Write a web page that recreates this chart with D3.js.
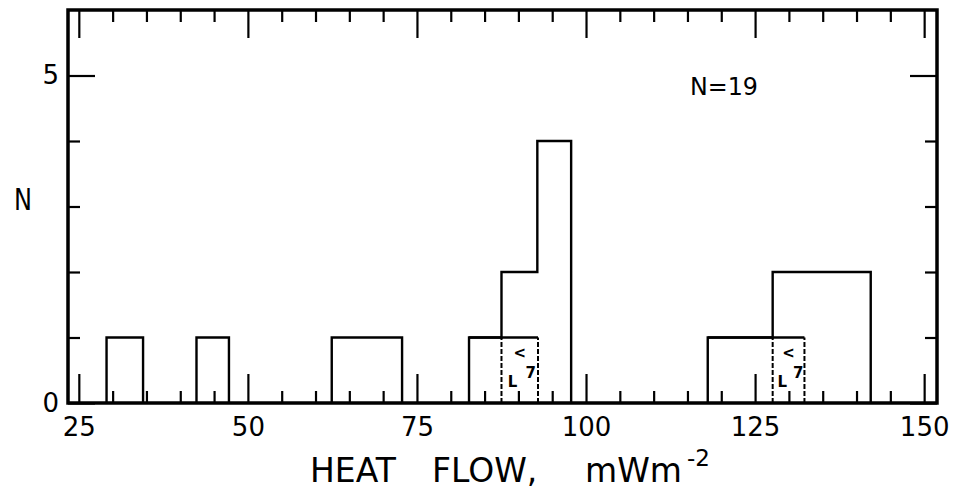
<!DOCTYPE html>
<html>
<head>
<meta charset="utf-8">
<script src="https://cdn.jsdelivr.net/npm/d3@7"></script>
<style>
  body { margin: 0; background: #fff; }
  text { font-family: "DejaVu Sans", sans-serif; fill: #000; }
</style>
</head>
<body>
<div id="chart"></div>
<script>

// Chart size and margins (plot frame drawn inside these)
const width = 953;
const height = 497;
const margin = {left: 68, right: 16, top: 10, bottom: 94};

// Histogram bins: lower edge, upper edge, count (outline bins)
const binLo = [29.1, 42.4, 62.4, 82.7, 87.5, 92.8, 118.0, 127.6];
const binHi = [34.5, 47.2, 72.8, 87.5, 92.8, 97.8, 127.6, 142.1];
const binN  = [1, 1, 1, 1, 2, 4, 1, 2];

// inner boxes (one site drawn with a top line, dashed sides)
const boxLo = [82.7, 118.0];
const boxHi = [92.9, 132.3];
const boxN  = [1, 1];

// dashed cells where the boxes overlap the taller bins
const cellLo = [87.5, 127.6];
const cellHi = [92.9, 132.3];

// ticks and labels
const xMajor = [25, 50, 75, 100, 125, 150];
const xMinor = d3.range(30, 150, 5).filter(v => v % 25 !== 0);
const yMajor = [0, 5];
const yMinor = [1, 2, 3, 4];
const xTitle = ["HEAT", "FLOW,", "mWm"];
const xTitleSup = "-2";
const yTitle = "N";
const nLabel = "N=19";

const svg = d3.select("#chart")
  .append("svg")
  .attr("width", width)
  .attr("height", height);

const x = d3.scaleLinear()
  .domain([23.4, 151.9])
  .range([margin.left, width - margin.right]);

const y = d3.scaleLinear()
  .domain([0, 6])
  .range([height - margin.bottom, margin.top]);

// helper to strip domain line off an axis group
function noDomain(g) { g.select(".domain").remove(); }

/*
  Ticks (all pointing inwards, on all four sides)
*/
const tickStyle = g => g.selectAll(".tick line").attr("stroke", "#000").attr("stroke-width", 2.2);

// bottom minor
svg.append("g")
  .attr("transform", `translate(0,${y(0)})`)
  .call(d3.axisBottom(x).tickValues(xMinor).tickSize(-12).tickFormat(""))
  .call(noDomain).call(tickStyle);

// bottom major + labels
svg.append("g")
  .attr("transform", `translate(0,${y(0)})`)
  .call(d3.axisBottom(x).tickValues(xMajor).tickSize(-29).tickPadding(15).tickFormat(d3.format("d")))
  .call(noDomain).call(tickStyle)
  .selectAll("text").attr("font-size", 26);

// top minor and major
svg.append("g")
  .attr("transform", `translate(0,${y(6)})`)
  .call(d3.axisTop(x).tickValues(xMinor).tickSize(-12).tickFormat(""))
  .call(noDomain).call(tickStyle);
svg.append("g")
  .attr("transform", `translate(0,${y(6)})`)
  .call(d3.axisTop(x).tickValues(xMajor).tickSize(-28).tickFormat(""))
  .call(noDomain).call(tickStyle);

// left minor, major + labels
svg.append("g")
  .attr("transform", `translate(${x.range()[0]},0)`)
  .call(d3.axisLeft(y).tickValues(yMinor).tickSize(-12).tickFormat(""))
  .call(noDomain).call(tickStyle);
svg.append("g")
  .attr("transform", `translate(${x.range()[0]},0)`)
  .call(d3.axisLeft(y).tickValues(yMajor).tickSize(-27).tickPadding(9).tickFormat(d3.format("d")))
  .call(noDomain).call(tickStyle)
  .selectAll("text").attr("font-size", 26);

// right minor and major
svg.append("g")
  .attr("transform", `translate(${x.range()[1]},0)`)
  .call(d3.axisRight(y).tickValues(yMinor).tickSize(-12).tickFormat(""))
  .call(noDomain).call(tickStyle);
svg.append("g")
  .attr("transform", `translate(${x.range()[1]},0)`)
  .call(d3.axisRight(y).tickValues(yMajor).tickSize(-27).tickFormat(""))
  .call(noDomain).call(tickStyle);

// frame
svg.append("rect")
  .attr("x", x.range()[0])
  .attr("y", y(6))
  .attr("width", x.range()[1] - x.range()[0])
  .attr("height", y(0) - y(6))
  .attr("fill", "none")
  .attr("stroke", "#000")
  .attr("stroke-width", 3.5);

/*
  Bars - outline of the histogram, contiguous bins joined in one step path
*/
const bins = binLo.map((lo, i) => ({lo: lo, hi: binHi[i], n: binN[i]}));
const groups = [];
bins.forEach((b, i) => {
  if (i > 0 && Math.abs(bins[i - 1].hi - b.lo) < 0.01) groups[groups.length - 1].push(b);
  else groups.push([b]);
});

const step = d3.line()
  .x(d => x(d[0]))
  .y(d => y(d[1]))
  .curve(d3.curveStepAfter);

svg.selectAll(".bar")
  .data(groups)
  .enter()
  .append("path")
    .attr("class", "bar")
    .attr("d", g => {
      const pts = [[g[0].lo, 0]];
      g.forEach(b => pts.push([b.lo, b.n]));
      pts.push([g[g.length - 1].hi, 0]);
      return step(pts);
    })
    .attr("fill", "none")
    .attr("stroke", "#000")
    .attr("stroke-width", 2.4);

// inner box top lines
svg.selectAll(".box")
  .data(boxLo)
  .enter()
  .append("line")
    .attr("class", "box")
    .attr("x1", d => x(d))
    .attr("x2", (d, i) => x(boxHi[i]))
    .attr("y1", (d, i) => y(boxN[i]))
    .attr("y2", (d, i) => y(boxN[i]))
    .attr("stroke", "#000")
    .attr("stroke-width", 2.4);

// dashed sides of the overlap cells
const cellSides = [];
cellLo.forEach((lo, i) => { cellSides.push(lo); cellSides.push(cellHi[i]); });
svg.selectAll(".cellside")
  .data(cellSides)
  .enter()
  .append("line")
    .attr("class", "cellside")
    .attr("x1", d => x(d))
    .attr("x2", d => x(d))
    .attr("y1", y(0))
    .attr("y2", y(1))
    .attr("stroke", "#000")
    .attr("stroke-width", 2)
    .attr("stroke-dasharray", "5,2");

// little broken hatch marks inside the cells
const scribbles = ["<", "L", "7"];
const scribFx = [0.5, 0.3, 0.8];
const scribFy = [0.75, 0.32, 0.45];
cellLo.forEach((lo, i) => {
  svg.selectAll(".scrib" + i)
    .data(scribbles)
    .enter()
    .append("text")
      .attr("class", "scrib" + i)
      .attr("x", (d, j) => x(lo + (cellHi[i] - lo) * scribFx[j]))
      .attr("y", (d, j) => y(scribFy[j]))
      .attr("text-anchor", "middle")
      .attr("dominant-baseline", "middle")
      .attr("font-size", 15)
      .attr("font-weight", "bold")
      .text(d => d);
});

/*
  Text labels
*/
svg.append("text")
  .attr("x", 690)
  .attr("y", 95)
  .attr("font-size", 24)
  .attr("textLength", 68)
  .attr("lengthAdjust", "spacingAndGlyphs")
  .text(nLabel);

svg.append("text")
  .attr("x", 23)
  .attr("y", 210)
  .attr("text-anchor", "middle")
  .attr("font-size", 30)
  .attr("textLength", 18)
  .attr("lengthAdjust", "spacingAndGlyphs")
  .text(yTitle);

// x title as one text, words spread out like the lettering guide
const titleX = [310, 432, 585];
const title = svg.append("text")
  .attr("y", 482)
  .attr("font-size", 33);
xTitle.forEach((w, i) => {
  title.append("tspan")
    .attr("x", titleX[i])
    .attr("y", 482)
    .text(w);
});
title.append("tspan")
  .attr("x", 687)
  .attr("y", 466)
  .attr("font-size", 23)
  .text(xTitleSup);

</script>
</body>
</html>
